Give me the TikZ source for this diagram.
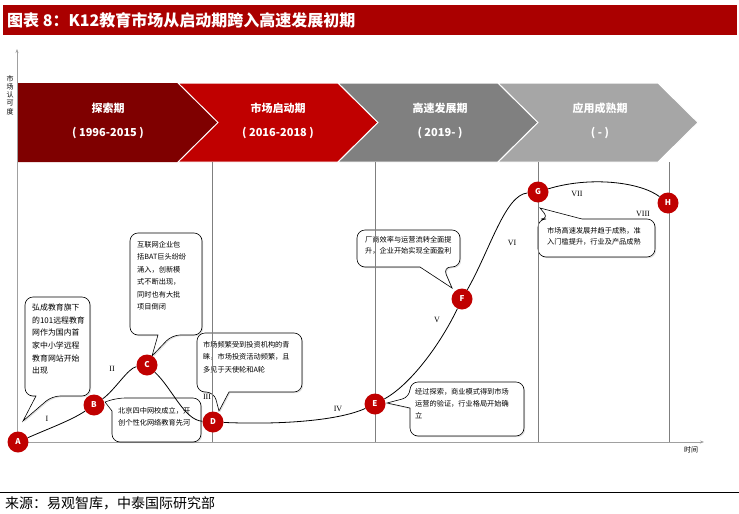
\documentclass[tikz,border=0pt]{standalone}
\usepackage{fontspec}
\setmainfont{Noto Sans CJK SC}
\newfontfamily\romf{Liberation Serif}
\usetikzlibrary{arrows.meta,shadows}
\definecolor{titlered}{HTML}{AA0000}
\definecolor{chA}{HTML}{7F0000}
\definecolor{chB}{HTML}{C00000}
\definecolor{chC}{HTML}{808080}
\definecolor{chD}{HTML}{A6A6A6}
\definecolor{axisgray}{HTML}{A0A0A0}
\definecolor{vgray}{HTML}{7F7F7F}
\definecolor{dotred}{HTML}{C00000}
\tikzset{
  chev/.style={draw=white, line width=1pt},
  chevtext/.style={text=white, font=\fontsize{11}{11}\selectfont\bfseries, inner sep=0},
  callout/.style={draw=black, fill=white, line width=0.6pt, drop shadow={shadow xshift=1.2pt, shadow yshift=-1.2pt, opacity=0.25}},
  ctext/.style={anchor=north west, align=left, inner sep=0, font=\fontsize{7.2}{12.5}\selectfont},
  ptnode/.style={circle, fill=dotred, text=white, font=\fontsize{8}{8}\selectfont\bfseries, minimum size=21pt, inner sep=0},
  rom/.style={font=\romf\fontsize{8}{8}\selectfont, inner sep=0},
  vline/.style={draw=vgray, line width=0.6pt},
  curve/.style={draw=black, line width=0.8pt}
}
\begin{document}
\begin{tikzpicture}[x=1pt,y=-1pt]
\useasboundingbox (0,0) rectangle (739,514);
% title bar
\fill[titlered] (3,5) rectangle (737,35);
\node[anchor=west, text=white, inner sep=0, font=\fontsize{16}{16}\selectfont\bfseries] (title) at (7,20.5) {图表 8：K12教育市场从启动期跨入高速发展初期};
% axes
\draw[draw=axisgray, line width=1pt, -{Stealth[length=4pt,width=3pt]}] (17,442) -- (17,49);
\draw[draw=axisgray, line width=1pt, -{Stealth[length=4pt,width=3pt]}] (17,442) -- (704,442);
\node[inner sep=0, align=center, font=\fontsize{7}{8.3}\selectfont] (ylab) at (10,95) {市\\场\\认\\可\\度};
\node[inner sep=0, font=\fontsize{7}{7}\selectfont] (xlab) at (691,450) {时间};
% chevrons
\fill[chA] (18,83) -- (178,83) -- (218,122.5) -- (178,162) -- (18,162) -- cycle;
\draw[chev, fill=chB] (178,83) -- (338,83) -- (378,122.5) -- (338,162) -- (178,162) -- (218,122.5) -- cycle;
\draw[chev, fill=chC] (338,83) -- (498,83) -- (538,122.5) -- (498,162) -- (338,162) -- (378,122.5) -- cycle;
\draw[chev, fill=chD] (498,83) -- (658,83) -- (698,122.5) -- (658,162) -- (498,162) -- (538,122.5) -- cycle;
\node[chevtext] (p1a) at (108,108) {探索期};
\node[chevtext] (p1b) at (108,133) {( 1996-2015 )};
\node[chevtext] (p2a) at (278,108) {市场启动期};
\node[chevtext] (p2b) at (278,133) {( 2016-2018 )};
\node[chevtext] (p3a) at (440,108) {高速发展期};
\node[chevtext] (p3b) at (440,133) {( 2019- )};
\node[chevtext] (p4a) at (600,108) {应用成熟期};
\node[chevtext] (p4b) at (600,133) {( - )};
% callouts
\draw[callout] (36,396) [rounded corners=8] -- (25,396) -- (25,297) -- (90,297) -- (90,396) -- (52,396) [sharp corners] -- (23,421) -- cycle;
\node[ctext, font=\fontsize{7.9}{12.7}\selectfont] (tA) at (32,303.5) {弘成教育旗下\\的101远程教育\\网作为国内首\\家中小学远程\\教育网站开始\\出现};
\draw[callout] (158,335) [rounded corners=8] -- (130,335) -- (130,233) -- (202,233) -- (202,335) -- (172,335) [sharp corners] -- (152,356) -- cycle;
\node[ctext] (tC) at (137,241) {互联网企业包\\括BAT巨头纷纷\\涌入，创新模\\式不断出现，\\同时也有大批\\项目倒闭};
\draw[callout] (112,411) [rounded corners=8] -- (112,442) -- (201,442) -- (201,398) -- (117,398) [sharp corners] -- (105,402) -- cycle;
\node[ctext] (tB) at (118,407) {北京四中网校成立，开\\创个性化网络教育先河};
\draw[callout] (229,392) [rounded corners=8] -- (302,392) -- (302,333) -- (197,333) -- (197,392) -- (214,392) [sharp corners] -- (219,411) -- cycle;
\node[ctext] (tD) at (203,341) {市场频繁受到投资机构的青\\睐，市场投资活动频繁，且\\多见于天使轮和A轮};
\draw[callout] (420,267) [rounded corners=8] -- (357,267) -- (357,230) -- (460,230) -- (460,267) -- (443,267) [sharp corners] -- (452,288) -- cycle;
\node[ctext, font=\fontsize{7.2}{11}\selectfont] (tF) at (365,236) {厂商效率与运营流转全面提\\升，企业开始实现全面盈利};
\draw[callout] (410,408) [rounded corners=8] -- (410,436) -- (524,436) -- (524,382) -- (410,382) -- (410,397) [sharp corners] -- (387,403) -- cycle;
\node[ctext, font=\fontsize{7.2}{12}\selectfont] (tE) at (415,388) {经过探索，商业模式得到市场\\运营的验证，行业格局开始确\\立};
\draw[callout] (582,219) [rounded corners=8] -- (655,219) -- (655,257) -- (538,257) -- (538,219) -- (549,219) [sharp corners] -- (540,208) -- cycle;
\node[ctext, font=\fontsize{7.2}{11.5}\selectfont] (tG) at (547,227) {市场高速发展并趋于成熟，准\\入门槛提升，行业及产品成熟};
% vertical phase lines
\draw[vline] (212,162) -- (212,442);
\draw[vline] (375,162) -- (375,442);
\draw[vline] (538,162) -- (538,442);
\draw[vline] (669,162) -- (669,442);
% points
\node[ptnode] (A) at (18,442) {A};
\node[ptnode] (B) at (94,405) {B};
\node[ptnode] (C) at (147,365) {C};
\node[ptnode] (D) at (213,422) {D};
\node[ptnode] (E) at (375,404) {E};
\node[ptnode] (F) at (462,299) {F};
\node[ptnode] (G) at (538,192) {G};
\node[ptnode] (H) at (668,203) {H};
% curve
\draw[curve] (A) .. controls (50,428) and (72,420) .. (B);
\draw[curve] (B) .. controls (115,390) and (128,368) .. (C);
\draw[curve] (C) .. controls (172,388) and (184,420) .. (D);
\draw[curve] (D) .. controls (285,425) and (340,420) .. (E);
\draw[curve] (E) .. controls (410,385) and (440,345) .. (F);
\draw[curve] (F) .. controls (490,250) and (505,195) .. (G);
\draw[curve] (G) .. controls (590,176) and (640,182) .. (H);
% roman labels
\node[rom] (r1) at (47,419) {I};
\node[rom] (r2) at (112,369) {II};
\node[rom] (r3) at (207,397) {III};
\node[rom] (r4) at (338,409) {IV};
\node[rom] (r5) at (437,320) {V};
\node[rom] (r6) at (512,243) {VI};
\node[rom] (r7) at (577,194) {VII};
\node[rom] (r8) at (643,214) {VIII};
% source
\draw[black, line width=1pt] (0,492) -- (739,492);
\node[anchor=west, inner sep=0, font=\fontsize{14}{14}\selectfont] (src) at (5,503.5) {来源：易观智库，中泰国际研究部};
\end{tikzpicture}
\end{document}
